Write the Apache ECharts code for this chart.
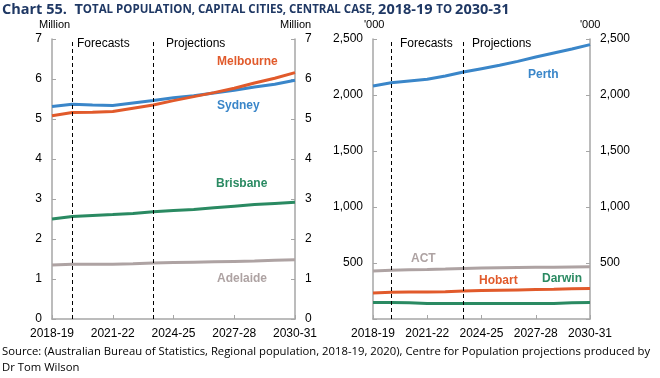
<!DOCTYPE html>
<html><head><meta charset="utf-8">
<script src="https://cdn.jsdelivr.net/npm/echarts@6/dist/echarts.min.js"></script>
<style>html,body{margin:0;padding:0;background:#fff}#c{width:660px;height:378px}</style>
</head><body><div id="c"></div>
<script>
const years = ['2018-19','2019-20','2020-21','2021-22','2022-23','2023-24','2024-25','2025-26','2026-27','2027-28','2028-29','2029-30','2030-31'];
const sydney    = [5.31,5.37,5.35,5.34,5.40,5.46,5.53,5.58,5.65,5.72,5.80,5.87,5.97];
const melbourne = [5.08,5.16,5.17,5.19,5.27,5.35,5.46,5.56,5.66,5.77,5.90,6.02,6.16];
const brisbane  = [2.50,2.56,2.59,2.61,2.64,2.68,2.71,2.74,2.78,2.82,2.86,2.89,2.92];
const adelaide  = [1.35,1.37,1.37,1.37,1.38,1.40,1.41,1.42,1.43,1.44,1.45,1.47,1.48];
const perth  = [2080,2110,2125,2140,2170,2205,2235,2265,2300,2340,2375,2410,2450];
const act    = [428,436,440,443,447,452,455,457,459,461,463,465,466];
const hobart = [232,238,240,241,243,250,254,257,260,263,266,270,273];
const darwin = [147,147,144,139,138,138,138,138,138,138,139,144,147];
const leftTicks = [0,1,2,3,4,5,6,7];
const rightTicks = [0,500,1000,1500,2000,2500];
const forecastStart = '2019-20', projectionStart = '2023-24';

const C = {syd:'#3a86c9', mel:'#e15a2b', bri:'#2a8a62', ade:'#aea3a3', axis:'#a6a6a6'};
const F = 'Liberation Sans, Arial, sans-serif';
const chart = echarts.init(document.getElementById('c'));

function xAx(gi){return {type:'category', gridIndex:gi, data:years, boundaryGap:false,
  axisLine:{lineStyle:{color:C.axis,width:1.5}}, axisTick:{inside:true,length:4,interval:2,alignWithLabel:true,lineStyle:{color:C.axis}},
  axisLabel:{interval:2,color:'#000',fontFamily:F,fontSize:12,margin:9}, splitLine:{show:false}};}
function yAx(gi,pos,max,intv,hideZero){return {type:'value', gridIndex:gi, position:pos, min:0, max:max, interval:intv,
  axisLine:{show:true,lineStyle:{color:C.axis,width:1.5}}, axisTick:{show:true,inside:true,length:4,lineStyle:{color:C.axis}},
  splitLine:{show:false}, axisLabel:{color:'#000',fontFamily:F,fontSize:12,margin:10,
  formatter:v=>{if(hideZero&&v===0)return ''; return v>=1000? v.toLocaleString('en-US'):String(v);}}};}

function line(name,data,color,xi,yi,mark){const s={name,type:'line',data,xAxisIndex:xi,yAxisIndex:yi,symbol:'none',
  lineStyle:{color,width:3},itemStyle:{color},z:3,animation:false};
  if(mark){s.markLine={silent:true,symbol:'none',label:{show:false},lineStyle:{color:'#000',type:[4,3],width:1},
    data:[{xAxis:forecastStart},{xAxis:projectionStart}]};}
  return s;}

function txt(x,y,t,color,opts){return {type:'text',left:x,top:y,style:{text:t,fill:color,font:(opts&&opts.font)||('12px '+F)}};}

chart.setOption({
  animation:false,
  grid:[{left:52,right:365,top:39,bottom:59},{left:373,right:70,top:39,bottom:59}],
  xAxis:[xAx(0),xAx(1)],
  yAxis:[yAx(0,'left',7,1,false),yAx(0,'right',7,1,false),yAx(1,'left',2500,500,true),yAx(1,'right',2500,500,true)],
  series:[
    line('Sydney',sydney,C.syd,0,0,true),
    line('Melbourne',melbourne,C.mel,0,0,false),
    line('Brisbane',brisbane,C.bri,0,0,false),
    line('Adelaide',adelaide,C.ade,0,0,false),
    line('Perth',perth,C.syd,1,2,true),
    line('ACT',act,C.ade,1,2,false),
    line('Hobart',hobart,C.mel,1,2,false),
    line('Darwin',darwin,C.bri,1,2,false),
    {type:'line',data:[],xAxisIndex:0,yAxisIndex:1},{type:'line',data:[],xAxisIndex:1,yAxisIndex:3}
  ],
  graphic:[
    {type:'text',left:2,top:2,style:{rich:{b:{font:'bold 14.5px "Open Sans", sans-serif',fill:'#1f3864'},s:{font:'bold 11.5px "Open Sans", sans-serif',fill:'#1f3864'}},
      text:'{b|Chart 55.  T}{s|OTAL POPULATION, CAPITAL CITIES, CENTRAL CASE, }{b|2018-19 }{s|TO }{b|2030-31}'}},
    txt(39,19,'Million','#000',{font:'11px '+F}),
    txt(280,19,'Million','#000',{font:'11px '+F}),
    txt(364,19,"'000",'#000',{font:'11px '+F}),
    txt(580,19,"'000",'#000',{font:'11px '+F}),
    txt(77,38,'Forecasts','#000',{font:'12px '+F}),
    txt(166,38,'Projections','#000',{font:'12px '+F}),
    txt(400,38,'Forecasts','#000',{font:'12px '+F}),
    txt(472,38,'Projections','#000',{font:'12px '+F}),
    txt(217,56,'Melbourne',C.mel,{font:'bold 12px '+F}),
    txt(217,100,'Sydney',C.syd,{font:'bold 12px '+F}),
    txt(216,178,'Brisbane',C.bri,{font:'bold 12px '+F}),
    txt(217,273,'Adelaide',C.ade,{font:'bold 12px '+F}),
    txt(528,69,'Perth',C.syd,{font:'bold 12px '+F}),
    txt(411,253,'ACT',C.ade,{font:'bold 12px '+F}),
    txt(479,275,'Hobart',C.mel,{font:'bold 12px '+F}),
    txt(542,273,'Darwin',C.bri,{font:'bold 12px '+F}),
    {type:'text',left:2,top:344,style:{text:'Source: (Australian Bureau of Statistics, Regional population, 2018-19, 2020), Centre for Population projections produced by\nDr Tom Wilson',
      fill:'#000',font:'11.3px "Open Sans", sans-serif',lineHeight:16}}
  ]
});
</script></body></html>
